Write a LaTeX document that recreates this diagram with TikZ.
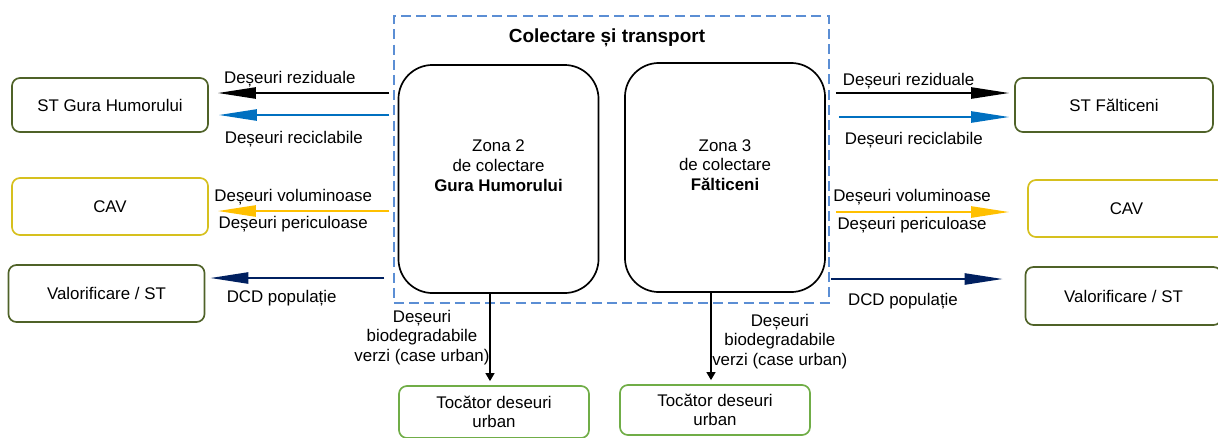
\documentclass[tikz,border=0pt]{standalone}
\usepackage{fontspec}
\setmainfont{Liberation Sans}
\usetikzlibrary{arrows.meta,calc}
\definecolor{stgreen}{RGB}{79,98,40}
\definecolor{cavyellow}{RGB}{214,192,30}
\definecolor{tocgreen}{RGB}{112,173,71}
\definecolor{recblue}{RGB}{0,112,192}
\definecolor{volyellow}{RGB}{255,192,0}
\definecolor{dcdnavy}{RGB}{0,32,96}
\definecolor{frameblue}{RGB}{91,142,212}

\begin{document}
\begin{tikzpicture}[
			x=0.025cm, y=-0.025cm,
			font=\fontsize{12}{14}\selectfont,
			dest/.style={rectangle,rounded corners=0.2cm,draw=stgreen,line width=1.2pt,
			inner sep=0pt,minimum width=4.9cm,minimum height=1.4cm,align=center},
			cav/.style={dest,draw=cavyellow,minimum height=1.425cm},
			toc/.style={dest,draw=tocgreen,minimum width=4.75cm,minimum height=1.3cm},
			zone/.style={rectangle,rounded corners=0.85cm,draw=black,line width=1.2pt,
			minimum width=5cm,minimum height=5.7cm},
			colframe/.style={rectangle,draw=frameblue,line width=1.1pt,
			dash pattern=on 0.25cm off 0.13cm,minimum width=10.875cm,minimum height=7.175cm},
			flow/.style={line width=1.3pt,-{Triangle[length=0.95cm,width=0.28cm]}},
			down/.style={line width=1.3pt,-{Triangle[length=0.2cm,width=0.22cm]}},
			lbl/.style={inner sep=0pt,anchor=center,align=center}
			]
			\useasboundingbox (0,0) rectangle (1218,437);
			\node[colframe] (frame) at (611.5,159.5) {};
			\node[font=\fontsize{13.5}{16}\selectfont\bfseries] (title) at (607,38) {Colectare și transport};
			\node[zone, label={[lbl,yshift=0.33cm]center:{Zona 2\\de colectare\\\textbf{Gura Humorului}}}] (zone2) at (498.5,179) {};
			\node[zone, minimum height=5.725cm, label={[lbl,yshift=0.31cm]center:{Zona 3\\de colectare\\\textbf{Fălticeni}}}] (zone3) at (725,177.5) {};

			\node[dest, minimum height=1.35cm] (stgh) at (110,105) {ST Gura Humorului};
			\node[cav] (cavl) at (110,206.5) {CAV};
			\node[dest, minimum height=1.425cm] (vall) at (106.5,293.5) {Valorificare / ST};
			\node[dest, minimum height=1.35cm, minimum width=4.95cm] (stf) at (1114,105) {ST Fălticeni};
			\node[cav, minimum width=4.925cm] (cavr) at (1126.5,208.5) {CAV};
			\node[dest, minimum height=1.45cm] (valr) at (1123.5,296) {Valorificare / ST};
			\node[toc] (toc2) at (494,412) {Tocător deseuri\\urban};
			\node[toc, minimum height=1.25cm] (toc3) at (715,410) {Tocător deseuri\\urban};

			\draw[flow] ($(frame.west |- stgh.east)+(-4,-12)$) -- node[lbl,pos=0.58,yshift=0.35cm] 
				{Deșeuri reziduale} ($(stgh.east)+(9,-12)$);
			\draw[flow, draw=recblue, fill=recblue] ($(frame.west |- stgh.east)+(-4,10)$) -- node[lbl,pos=0.56,yshift=-0.6cm] 
				{Deșeuri reciclabile} ($(stgh.east)+(10,10)$);
			\draw[flow, draw=volyellow, fill=volyellow] ($(frame.west |- cavl.east)+(-4,4.5)$) -- node[lbl,pos=0.56,yshift=0.35cm] 
				{Deșeuri voluminoase} node[lbl,pos=0.56,yshift=-0.325cm] {Deșeuri periculoase} ($(cavl.east)+(9,4.5)$);
			\draw[flow, draw=dcdnavy, fill=dcdnavy] ($(frame.west |- vall.east)+(-9,-15.5)$) -- node[lbl,pos=0.59,yshift=-0.5cm] 
				{DCD populație} ($(vall.east)+(5,-15.5)$);

			\draw[flow] ($(frame.east |- stf.west)+(6,-12)$) -- node[lbl,pos=0.42,yshift=0.3cm] 
				{Deșeuri reziduale} ($(stf.west)+(-5,-12)$);
			\draw[flow, draw=recblue, fill=recblue] ($(frame.east |- stf.west)+(9,12)$) -- node[lbl,pos=0.44,yshift=-0.575cm] 
				{Deșeuri reciclabile} ($(stf.west)+(-5,12)$);
			\draw[flow, draw=volyellow, fill=volyellow] ($(frame.east |- cavr.west)+(6,3.5)$) -- node[lbl,pos=0.44,yshift=0.375cm] 
				{Deșeuri voluminoase} node[lbl,pos=0.44,yshift=-0.325cm] {Deșeuri periculoase} ($(cavr.west)+(-18,3.5)$);
			\draw[flow, draw=dcdnavy, fill=dcdnavy] ($(frame.east |- valr.west)+(1,-17)$) -- node[lbl,pos=0.42,yshift=-0.55cm] 
				{DCD populație} ($(valr.west)+(-22,-17)$);

			\draw[down] ($(zone2.south)+(-8.5,0)$) -- node[lbl,xshift=-1.7cm] 
				{Deșeuri\\biodegradabile\\verzi (case urban)} ($(toc2.north)+(-4,-4)$);
			\draw[down] ($(zone3.south)+(-14,0)$) -- node[lbl,xshift=1.72cm,yshift=-0.12cm] 
				{Deșeuri\\biodegradabile\\verzi (case urban)} ($(toc3.north)+(-4,-4)$);
		\end{tikzpicture}
\end{document}
